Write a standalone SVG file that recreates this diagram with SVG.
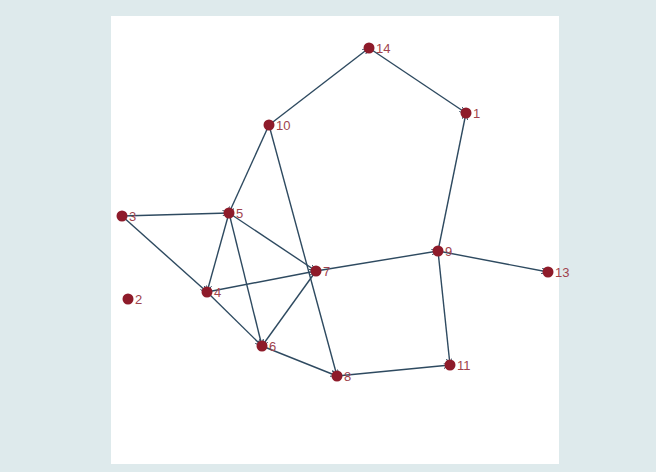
<svg xmlns="http://www.w3.org/2000/svg" width="656" height="472" viewBox="0 0 656 472">
<style>
.bg{fill:#deeaec}
.panel{fill:#ffffff}
.e{stroke:#2e4a60;stroke-width:1.4;fill:none;marker-end:url(#arr)}
.n{fill:#8e1b2a}
.t{font-family:"Liberation Sans",Arial,sans-serif;font-size:13px;fill:#a0434d}
</style>
<defs>
<marker id="arr" viewBox="0 0 10 10" refX="11" refY="5" markerWidth="6" markerHeight="6" orient="auto" markerUnits="userSpaceOnUse">
<polyline points="0,0 10,5 0,10" fill="none" stroke="#2e4a60" stroke-width="1.6"/>
</marker>
</defs>
<rect class="bg" x="0" y="0" width="656" height="472"/>
<rect class="panel" x="111" y="16" width="448" height="448"/>
<g id="connectors">
<line class="e" x1="269" y1="125" x2="369" y2="48"/>
<line class="e" x1="369" y1="48" x2="466" y2="113"/>
<line class="e" x1="438" y1="251" x2="466" y2="113"/>
<line class="e" x1="269" y1="125" x2="229" y2="213"/>
<line class="e" x1="269" y1="125" x2="337" y2="376"/>
<line class="e" x1="122" y1="216" x2="229" y2="213"/>
<line class="e" x1="122" y1="216" x2="207" y2="292"/>
<line class="e" x1="229" y1="213" x2="207" y2="292"/>
<line class="e" x1="229" y1="213" x2="262" y2="346"/>
<line class="e" x1="229" y1="213" x2="316" y2="271"/>
<line class="e" x1="207" y1="292" x2="316" y2="271"/>
<line class="e" x1="207" y1="292" x2="262" y2="346"/>
<line class="e" x1="316" y1="271" x2="262" y2="346"/>
<line class="e" x1="316" y1="271" x2="438" y2="251"/>
<line class="e" x1="438" y1="251" x2="548" y2="272"/>
<line class="e" x1="438" y1="251" x2="450" y2="365"/>
<line class="e" x1="262" y1="346" x2="337" y2="376"/>
<line class="e" x1="337" y1="376" x2="450" y2="365"/>
</g>
<g id="node-1"><circle class="n" cx="466" cy="113" r="5.5"/><text class="t" x="473" y="118">1</text></g>
<g id="node-2"><circle class="n" cx="128" cy="299" r="5.5"/><text class="t" x="135" y="304">2</text></g>
<g id="node-3"><circle class="n" cx="122" cy="216" r="5.5"/><text class="t" x="129" y="221">3</text></g>
<g id="node-4"><circle class="n" cx="207" cy="292" r="5.5"/><text class="t" x="214" y="297">4</text></g>
<g id="node-5"><circle class="n" cx="229" cy="213" r="5.5"/><text class="t" x="236" y="218">5</text></g>
<g id="node-6"><circle class="n" cx="262" cy="346" r="5.5"/><text class="t" x="269" y="351">6</text></g>
<g id="node-7"><circle class="n" cx="316" cy="271" r="5.5"/><text class="t" x="323" y="276">7</text></g>
<g id="node-8"><circle class="n" cx="337" cy="376" r="5.5"/><text class="t" x="344" y="381">8</text></g>
<g id="node-9"><circle class="n" cx="438" cy="251" r="5.5"/><text class="t" x="445" y="256">9</text></g>
<g id="node-10"><circle class="n" cx="269" cy="125" r="5.5"/><text class="t" x="276" y="130">10</text></g>
<g id="node-11"><circle class="n" cx="450" cy="365" r="5.5"/><text class="t" x="457" y="370">11</text></g>
<g id="node-13"><circle class="n" cx="548" cy="272" r="5.5"/><text class="t" x="555" y="277">13</text></g>
<g id="node-14"><circle class="n" cx="369" cy="48" r="5.5"/><text class="t" x="376" y="53">14</text></g>
</svg>
